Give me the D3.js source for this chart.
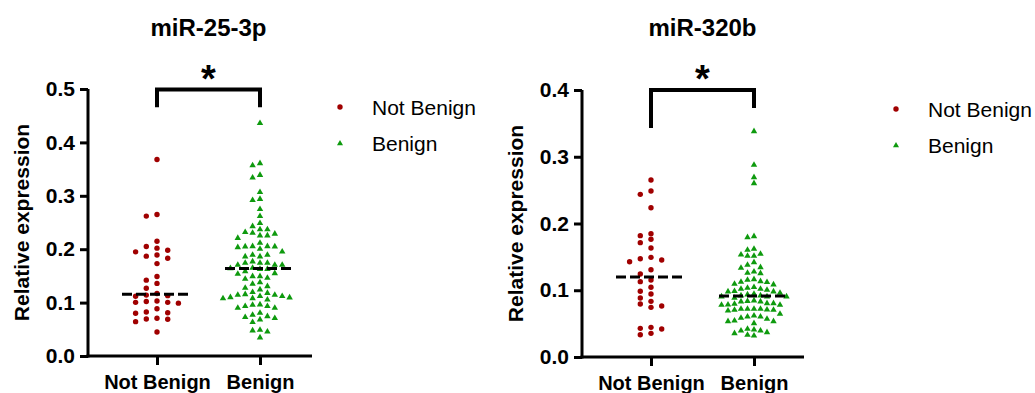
<!DOCTYPE html>
<html>
<head>
<meta charset="utf-8">
<script src="https://cdn.jsdelivr.net/npm/d3@7"></script>
<style>
  body { margin: 0; background: #fff; }
  text { font-family: Arial, "Liberation Sans", sans-serif; }
</style>
</head>
<body>
<svg id="chart" width="1035" height="393"></svg>
<script>
const groups = ["Not Benign", "Benign"];
const titles = ["miR-25-3p", "miR-320b"];
const yTicks25 = [0, 0.1, 0.2, 0.3, 0.4, 0.5];
const yTicks320 = [0, 0.1, 0.2, 0.3, 0.4];

// values
const mir25NotBenign = [0.368, 0.265, 0.262, 0.215, 0.202, 0.205, 0.198, 0.189, 0.195, 0.187,
  0.183, 0.173, 0.149, 0.136, 0.142, 0.127, 0.112, 0.114, 0.113, 0.117, 0.099, 0.1005, 0.103,
  0.1005, 0.102, 0.0886, 0.080, 0.0824, 0.081, 0.0687, 0.0706, 0.0643, 0.0693, 0.045];
const mir25Benign = [0.437, 0.362, 0.358, 0.340, 0.335, 0.308, 0.293, 0.295, 0.276, 0.263, 0.250, 0.244,
  0.238, 0.238, 0.2266, 0.2266, 0.2316, 0.222, 0.230, 0.233,
  0.206, 0.1966, 0.2066, 0.206, 0.2047, 0.2016, 0.213, 0.2066,
  0.1873, 0.1873, 0.1904, 0.1904, 0.1754, 0.1754, 0.1754, 0.1717, 0.1717, 0.1717, 0.178,
  0.1598, 0.1654, 0.166, 0.164, 0.164, 0.156, 0.1504, 0.1504, 0.1548, 0.1454, 0.1473,
  0.1317, 0.139, 0.136, 0.1255, 0.1286,
  0.1167, 0.1067, 0.1105, 0.1155, 0.113, 0.113, 0.111, 0.119, 0.1205, 0.1155, 0.109, 0.1092,
  0.0974, 0.0943, 0.0943, 0.0911, 0.0911, 0.0967,
  0.078, 0.0818, 0.0693, 0.0718, 0.0755, 0.0643, 0.0737,
  0.0487, 0.0468, 0.050, 0.0356];
const mir320NotBenign = [0.2652, 0.2487, 0.2437, 0.2237, 0.1818, 0.1848, 0.1713, 0.1763, 0.1633,
  0.1493, 0.1428, 0.1453, 0.1473, 0.1308, 0.1243, 0.1154, 0.1129, 0.1044, 0.0984, 0.0944,
  0.0884, 0.0834, 0.0794, 0.0744, 0.0764, 0.0419, 0.0334, 0.0444, 0.0429, 0.0354];
const mir320Benign = [0.339, 0.2887, 0.2701, 0.2611, 0.1802, 0.1817,
  0.1613, 0.1628, 0.1553, 0.1523, 0.1523, 0.1543,
  0.1428, 0.1353, 0.1388, 0.1343, 0.1288, 0.1263, 0.1268,
  0.1143, 0.1104, 0.1164, 0.1134, 0.1129, 0.1094, 0.1173,
  0.0989, 0.1044, 0.1014, 0.0989, 0.1029, 0.1054, 0.0994, 0.1029,
  0.0914, 0.0954, 0.0929, 0.0894, 0.0914, 0.0944, 0.0914, 0.0929, 0.0969,
  0.0814, 0.0854, 0.0789, 0.0789, 0.0814, 0.0794, 0.0844, 0.0839, 0.0839, 0.0804,
  0.0729, 0.0714, 0.0704, 0.0729, 0.0719, 0.0714, 0.0729, 0.0729,
  0.0579, 0.0544, 0.0654, 0.0554, 0.0594, 0.0629, 0.0544, 0.0614, 0.0614, 0.0514,
  0.0364, 0.0429, 0.0379, 0.0404, 0.0419, 0.0329, 0.0404, 0.0339];

// significance bracket: [top, left leg end, right leg end]
const mir25Bracket = [0.499, 0.466, 0.466];
const mir320Bracket = [0.4, 0.343, 0.373];

const red = "#a00000", green = "#0e9a0e";

const panels = [
  { title: titles[0], left: 88, top: 89, bottom: 356, axisEnd: 224, max: 0.5, ticks: yTicks25,
    data: [mir25NotBenign, mir25Benign], bracket: mir25Bracket, legendX: 340, legendY: 107, benignStep: 7.4 },
  { title: titles[1], left: 582, top: 90, bottom: 357, axisEnd: 222, max: 0.4, ticks: yTicks320,
    data: [mir320NotBenign, mir320Benign], bracket: mir320Bracket, legendX: 896, legendY: 109, benignStep: 6.5 }
];

const svg = d3.select("#chart");

// simple beeswarm: place each point in the nearest free column
function swarm(values, y, step, minGap) {
  const pts = values.map(v => ({ v, y: y(v) })).sort((a, b) => a.y - b.y);
  const placed = [];
  pts.forEach(p => {
    for (let k = 0; k < 30; k++) {
      const col = k === 0 ? 0 : (k % 2 ? -Math.ceil(k / 2) : Math.ceil(k / 2));
      if (!placed.some(q => q.col === col && Math.abs(q.y - p.y) < minGap)) { p.col = col; break; }
    }
    placed.push(p);
  });
  placed.forEach(p => p.dx = p.col * step);
  return placed;
}

panels.forEach(cfg => {
  const h = cfg.bottom - cfg.top;
  const g = svg.append("g").attr("transform", `translate(${cfg.left},${cfg.top})`);

  const x = d3.scalePoint().domain(groups).range([69, 172]);
  const y = d3.scaleLinear().domain([0, cfg.max]).range([h, 0]);

  // y axis
  const yAxis = g.append("g")
    .call(d3.axisLeft(y).tickValues(cfg.ticks).tickFormat(d3.format(".1f")).tickSize(8).tickSizeOuter(0).tickPadding(5));
  yAxis.select(".domain").attr("stroke-width", 3).attr("d", `M0,0V${h + 1.5}`);
  yAxis.selectAll(".tick line").attr("stroke-width", 3);
  yAxis.selectAll(".tick text").attr("font-size", 21).attr("font-weight", "bold")
    .attr("font-family", "Arial, 'Liberation Sans', sans-serif").attr("fill", "#000");

  // x axis
  const xAxis = g.append("g").attr("transform", `translate(0,${h})`)
    .call(d3.axisBottom(x).tickSize(9).tickSizeOuter(0).tickPadding(10));
  xAxis.select(".domain").attr("stroke-width", 3).attr("d", `M-1.5,0H${cfg.axisEnd}`);
  xAxis.selectAll(".tick line").attr("stroke-width", 3);
  xAxis.selectAll(".tick text").attr("font-size", 20).attr("font-weight", "bold")
    .attr("font-family", "Arial, 'Liberation Sans', sans-serif").attr("fill", "#000")
    .attr("dy", "0.71em");

  // axis title
  g.append("text")
    .attr("transform", `translate(-59,${h / 2}) rotate(-90)`)
    .attr("text-anchor", "middle")
    .attr("font-size", 21).attr("font-weight", "bold")
    .text("Relative expression");

  // chart title
  g.append("text")
    .attr("x", (x(groups[0]) + x(groups[1])) / 2).attr("y", 36 - cfg.top)
    .attr("text-anchor", "middle")
    .attr("font-size", 24).attr("font-weight", "bold")
    .text(cfg.title);

  // points
  const steps = [10.7, cfg.benignStep];
  cfg.data.forEach((vals, gi) => {
    const cx = x(groups[gi]);
    const pts = swarm(vals, y, steps[gi], gi === 0 ? 5.5 : 6);
    if (gi === 0) {
      g.append("g").selectAll("circle").data(pts).enter().append("circle")
        .attr("cx", d => cx + d.dx).attr("cy", d => d.y).attr("r", 2.7).attr("fill", red);
    } else {
      g.append("g").selectAll("path").data(pts).enter().append("path")
        .attr("d", d3.symbol(d3.symbolTriangle, 18))
        .attr("transform", d => `translate(${cx + d.dx},${d.y + 0.6})`)
        .attr("fill", green);
    }
    // median line
    const m = d3.median(vals);
    g.append("line")
      .attr("x1", cx - 35).attr("x2", cx + 35)
      .attr("y1", y(m)).attr("y2", y(m))
      .attr("stroke", "#000").attr("stroke-width", 3)
      .attr("stroke-dasharray", "10,4");
  });

  // significance bracket
  const [bTop, bL, bR] = cfg.bracket;
  const x0 = x(groups[0]), x1 = x(groups[1]);
  g.append("path")
    .attr("d", `M${x0},${y(bL)}V${y(bTop)}H${x1}V${y(bR)}`)
    .attr("fill", "none").attr("stroke", "#000").attr("stroke-width", 4);
  g.append("text")
    .attr("x", (x0 + x1) / 2).attr("y", y(bTop) + 2)
    .attr("text-anchor", "middle")
    .attr("font-size", 38).attr("font-weight", "bold")
    .text("*");

  // legend
  const lg = svg.append("g").attr("transform", `translate(${cfg.legendX},${cfg.legendY})`);
  lg.append("circle").attr("cx", 0).attr("cy", 0).attr("r", 2.7).attr("fill", red);
  lg.append("path").attr("d", d3.symbol(d3.symbolTriangle, 16))
    .attr("transform", "translate(0,36.5)").attr("fill", green);
  lg.append("text").attr("x", 32).attr("y", 7.5).attr("font-size", 21).text(groups[0]);
  lg.append("text").attr("x", 32).attr("y", 43.5).attr("font-size", 21).text(groups[1]);
});
</script>
</body>
</html>
